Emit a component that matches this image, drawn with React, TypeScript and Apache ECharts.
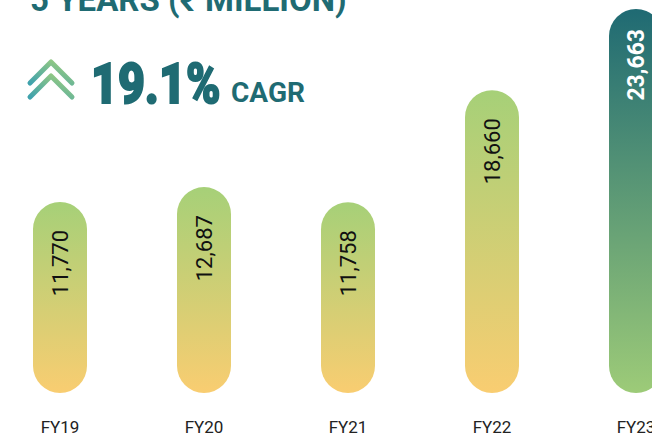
import React, { useEffect, useRef } from "react";
import * as echarts from "echarts";

const categories = ["FY19", "FY20", "FY21", "FY22", "FY23"];
const revenue = [11770, 12687, 11758, 18660, 23663];
const valueLabels = ["11,770", "12,687", "11,758", "18,660", "23,663"];
const titleText = "5 YEARS (₹ MILLION)";
const cagrValue = "19.1%";
const cagrLabel = "CAGR";

const OFF = 40; // chart div is shifted left by this many px
const TEAL = "#1f6b73";

export default function App() {
  const ref = useRef<HTMLDivElement>(null);
  useEffect(() => {
    if (!ref.current) return;
    const chart = echarts.init(ref.current, undefined, { renderer: "svg" });
    const lastIdx = revenue.length - 1;
    const data = revenue.map((v, i) => {
      const isLast = i === lastIdx;
      return {
        value: v,
        itemStyle: {
          color: new echarts.graphic.LinearGradient(0, 0, 0, 1, isLast
            ? [
                { offset: 0, color: "#1f6a73" },
                { offset: 1, color: "#9dcb78" },
              ]
            : [
                { offset: 0, color: "#a6d078" },
                { offset: 1, color: "#f9cd71" },
              ]),
          borderRadius: 27,
        },
        label: isLast
          ? { color: "#ffffff", fontWeight: "bold", fontSize: 23, distance: 20 }
          : { color: "#111111", fontWeight: "normal", fontSize: 22, distance: 28 },
      };
    });
    const chevronStroke = () =>
      new echarts.graphic.LinearGradient(0, 1, 1, 0, [
        { offset: 0, color: "#3fa2ad" },
        { offset: 1, color: "#a3d07a" },
      ]);
    chart.setOption({
      animation: false,
      grid: { left: 28, width: 720, top: 3.5, bottom: 45 },
      xAxis: {
        type: "category",
        data: categories,
        axisLine: { show: false },
        axisTick: { show: false },
        axisLabel: { color: "#222222", fontSize: 17, fontFamily: "Roboto", margin: 25 },
      },
      yAxis: { type: "value", min: 0, max: 24000, show: false },
      series: [
        {
          type: "bar",
          data,
          barWidth: 54,
          label: {
            show: true,
            position: "insideTop",
            rotate: 90,
            align: "right",
            verticalAlign: "middle",
            fontFamily: "Roboto",
            formatter: (p: any) => valueLabels[p.dataIndex],
          },
        },
      ],
      graphic: [
        {
          type: "text",
          x: 30 + OFF,
          y: -1,
          style: {
            text: titleText,
            fill: TEAL,
            font: "bold 33px Roboto",
            textAlign: "left",
            textVerticalAlign: "middle",
          },
        },
        {
          type: "polyline",
          shape: { points: [[30 + OFF, 83], [51 + OFF, 62], [72 + OFF, 83]] },
          style: {
            fill: "none",
            lineWidth: 5,
            lineCap: "round",
            lineJoin: "round",
            stroke: chevronStroke(),
          },
        },
        {
          type: "polyline",
          shape: { points: [[30 + OFF, 97], [51 + OFF, 76], [72 + OFF, 97]] },
          style: {
            fill: "none",
            lineWidth: 5,
            lineCap: "round",
            lineJoin: "round",
            stroke: chevronStroke(),
          },
        },
        {
          type: "text",
          x: 91 + OFF,
          y: 84,
          scaleX: 0.83,
          style: {
            x: 0,
            y: 0,
            text: cagrValue,
            fill: TEAL,
            stroke: TEAL,
            lineWidth: 2,
            font: "900 56px Roboto",
            textAlign: "left",
            textVerticalAlign: "middle",
          },
        },
        {
          type: "text",
          x: 231 + OFF,
          y: 92,
          style: {
            x: 0,
            y: 0,
            text: cagrLabel,
            fill: TEAL,
            font: "bold 28px Roboto",
            textAlign: "left",
            textVerticalAlign: "middle",
          },
        },
      ],
    });
    return () => chart.dispose();
  }, []);
  return (
    <div style={{ position: "fixed", left: 0, top: 0, width: 652, height: 438, overflow: "hidden", background: "#ffffff" }}>
      <div ref={ref} style={{ position: "absolute", left: -OFF, top: 0, width: 800, height: 438 }} />
    </div>
  );
}
